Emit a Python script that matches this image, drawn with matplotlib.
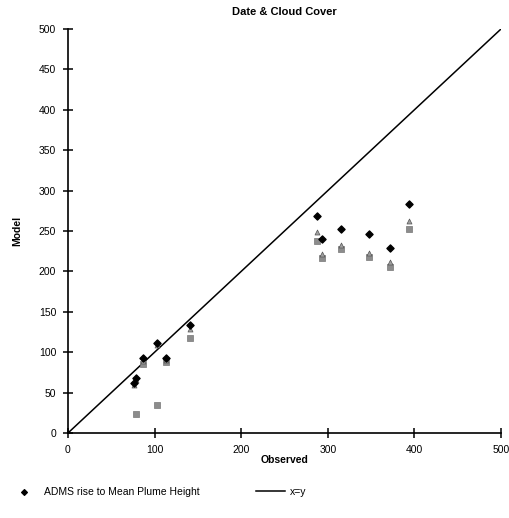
import numpy as np
import matplotlib
matplotlib.use('Agg')
import matplotlib.pyplot as plt

plt.rcParams['font.family'] = ['Liberation Sans', 'DejaVu Sans']

observed = [76, 79, 87, 103, 113, 141, 287, 293, 315, 348, 372, 394]
adms_mean = [62, 68, 93, 112, 93, 134, 268, 240, 253, 246, 229, 283]
tri_model = [60, 65, 89, 109, 90, 129, 249, 222, 233, 223, 212, 262]
sq_observed = [79, 87, 103, 113, 141, 287, 293, 315, 348, 372, 394]
sq_model = [24, 86, 35, 88, 117, 238, 216, 228, 218, 206, 252]

ticks = [0, 100, 200, 300, 400, 500]
yticks = [0, 50, 100, 150, 200, 250, 300, 350, 400, 450, 500]

fig = plt.figure(figsize=(5.1, 5.18), dpi=100)
ax = fig.add_axes([68 / 510, 1 - 433 / 518, 433 / 510, 404 / 518])

ax.plot([0, 500], [0, 500], color='black', lw=1.1, label='x=y', zorder=2)
ax.scatter(sq_observed, sq_model, marker='s', s=13, color='#8c8c8c',
           edgecolors='#777777', linewidths=0.5, zorder=3)
ax.scatter(observed, tri_model, marker='^', s=13, color='#a0a0a0',
           edgecolors='#555555', linewidths=0.5, zorder=4)
ax.scatter(observed, adms_mean, marker='D', s=13, color='black',
           label='ADMS rise to Mean Plume Height', zorder=5)

ax.set_xlim(0, 500)
ax.set_ylim(0, 500)
ax.set_xticks(ticks)
ax.set_yticks(yticks)
for s in ['top', 'right']:
    ax.spines[s].set_visible(False)
for s in ['left', 'bottom']:
    ax.spines[s].set_linewidth(1.2)
ax.tick_params(direction='inout', length=7, width=1.1, labelsize=7.5, pad=5)

ax.set_title('Date & Cloud Cover', fontsize=8, fontweight='bold', pad=10)
ax.set_xlabel('Observed', fontsize=7.5, fontweight='bold', labelpad=0)
ax.set_ylabel('Model', fontsize=7.5, fontweight='bold', labelpad=12)

h, l = ax.get_legend_handles_labels()
fig.legend([h[1], h[0]], [l[1], l[0]], loc='center left', ncol=2,
           bbox_to_anchor=(0.0, 1 - 492 / 518), frameon=False, fontsize=7.5,
           columnspacing=5.4, handlelength=2.8, handletextpad=0.5,
           markerscale=0.8)

fig.savefig('out.png', dpi=100)
